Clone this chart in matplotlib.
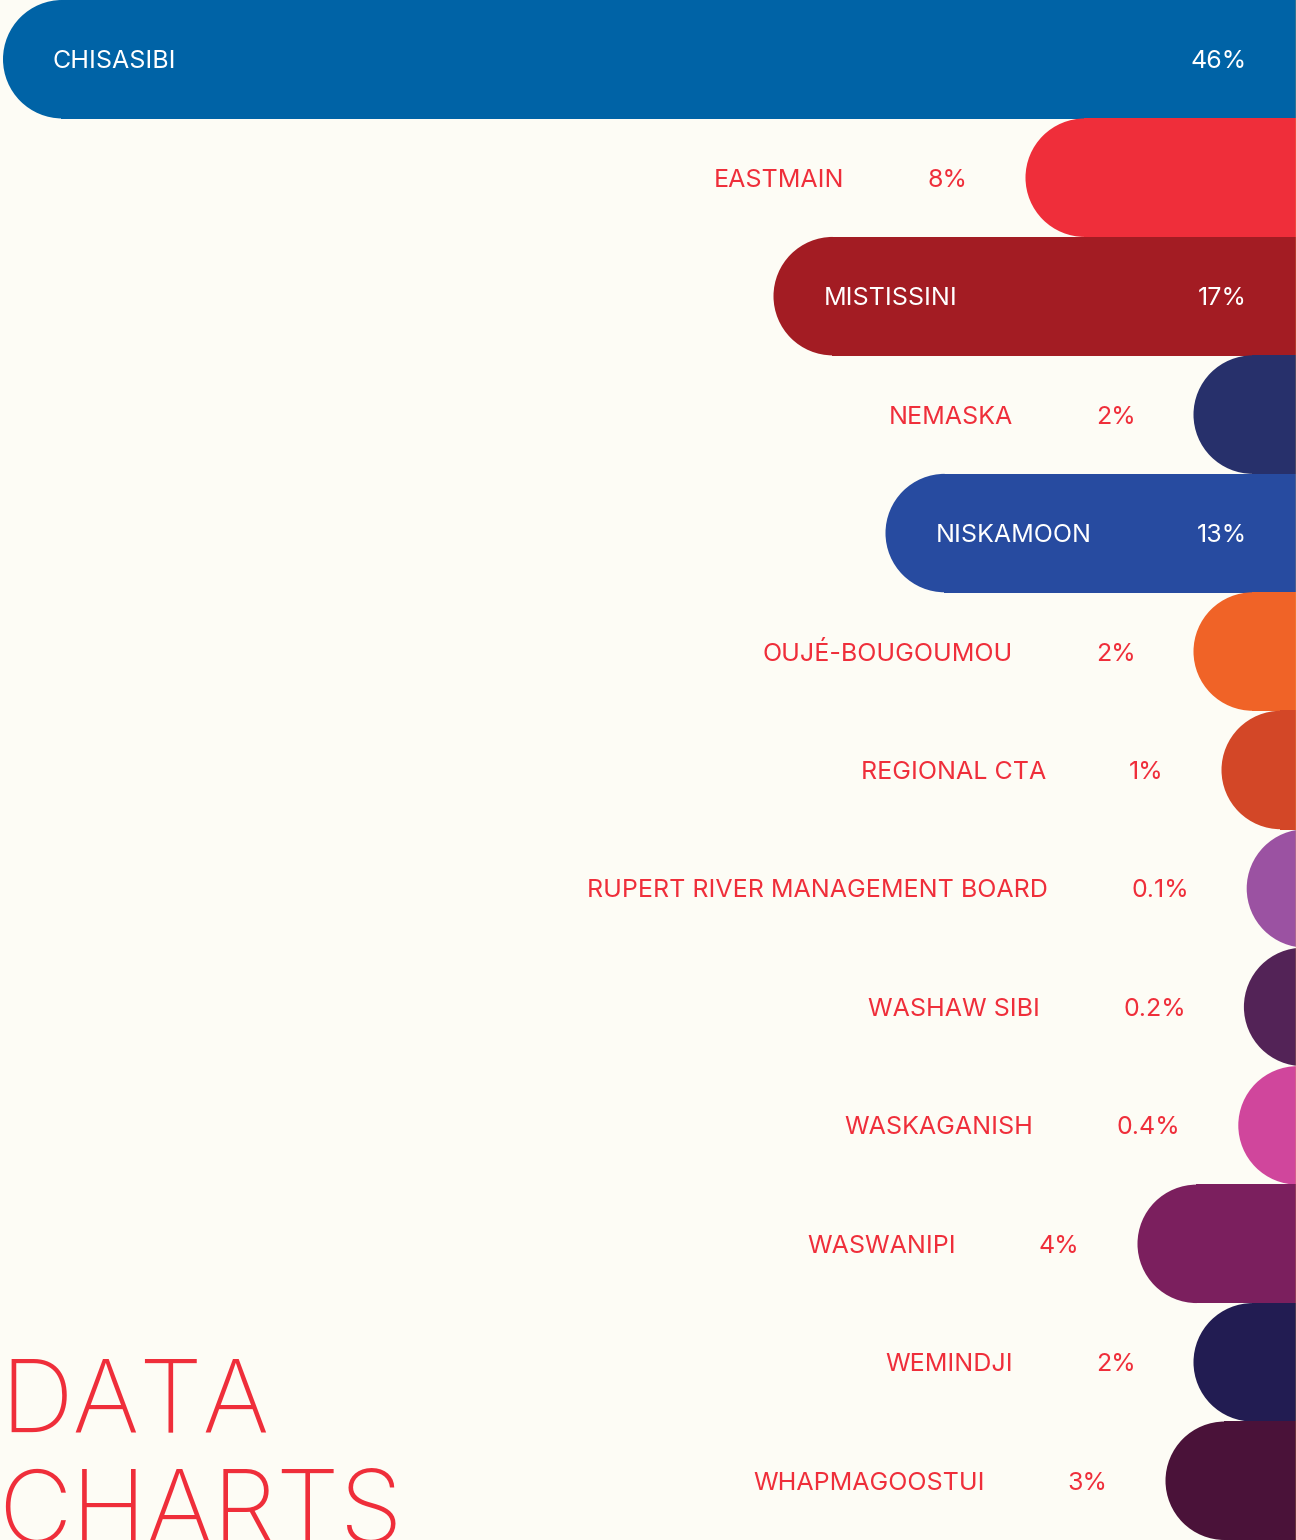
import matplotlib
matplotlib.use('Agg')
import matplotlib.pyplot as plt
from matplotlib.patches import Wedge

names = ['CHISASIBI', 'EASTMAIN', 'MISTISSINI', 'NEMASKA', 'NISKAMOON',
         'OUJÉ-BOUGOUMOU', 'REGIONAL CTA', 'RUPERT RIVER MANAGEMENT BOARD',
         'WASHAW SIBI', 'WASKAGANISH', 'WASWANIPI', 'WEMINDJI', 'WHAPMAGOOSTUI']
pcts = [46, 8, 17, 2, 13, 2, 1, 0.1, 0.2, 0.4, 4, 2, 3]
pct_labels = ['46%', '8%', '17%', '2%', '13%', '2%', '1%', '0.1%', '0.2%',
              '0.4%', '4%', '2%', '3%']
colors = ['#0063A6', '#EF2E3A', '#A31C23', '#27306B', '#274BA0', '#F06327',
          '#D34727', '#9B52A2', '#532357', '#D0469C', '#7B1F5E', '#221C52',
          '#4A1239']

BG = '#FDFCF5'
RED = '#EF2E3A'
FONT = 'Inter'
FS = 18

W, H = 1296, 1540
fig = plt.figure(figsize=(W / 100, H / 100), dpi=100, facecolor=BG)
ax = fig.add_axes([0, 0, 1, 1])
ax.set_facecolor(BG)
ax.set_xlim(0, W)
ax.set_ylim(H, 0)
ax.axis('off')

row = H / len(names)
rad = row / 2
right = 1295.5

for i, (name, p, lab, c) in enumerate(zip(names, pcts, pct_labels, colors)):
    length = min(46 + 28 * p, right - 3)
    start = right - length
    yc = (i + 0.5) * row
    ty = yc + 2.5
    # flat part overlaps the round end by a pixel to hide the seam
    ax.barh(yc, max(length - rad, 0) + 3, left=start + rad - 1, height=row + 0.6,
            color=c, linewidth=0)
    ax.add_patch(Wedge((start + rad, yc), rad, 90, 270, color=c, lw=0))
    if p >= 10:
        ax.text(start + 50, ty, name, color='white', fontsize=FS,
                family=FONT, ha='left', va='center')
        ax.text(1247, ty, lab, color='white', fontsize=FS,
                family=FONT, ha='right', va='center')
    else:
        t = ax.text(start - 58, ty, lab, color=RED, fontsize=FS,
                    family=FONT, ha='right', va='center')
        ax.annotate(name, xy=(0, 0.5), xycoords=t, xytext=(-83, 0),
                    textcoords='offset pixels', color=RED, fontsize=FS,
                    family=FONT, ha='right', va='center')

ax.axvline(1295.5, color='#F2C14E', lw=1)

ax.text(0, 1432, 'DATA', color=RED, fontsize=73, family=FONT,
        fontweight='light', ha='left', va='baseline')
ax.text(-2, 1543, 'CHARTS', color=RED, fontsize=73, family=FONT,
        fontweight='light', ha='left', va='baseline')

fig.savefig('out.png', dpi=100, facecolor=BG)
